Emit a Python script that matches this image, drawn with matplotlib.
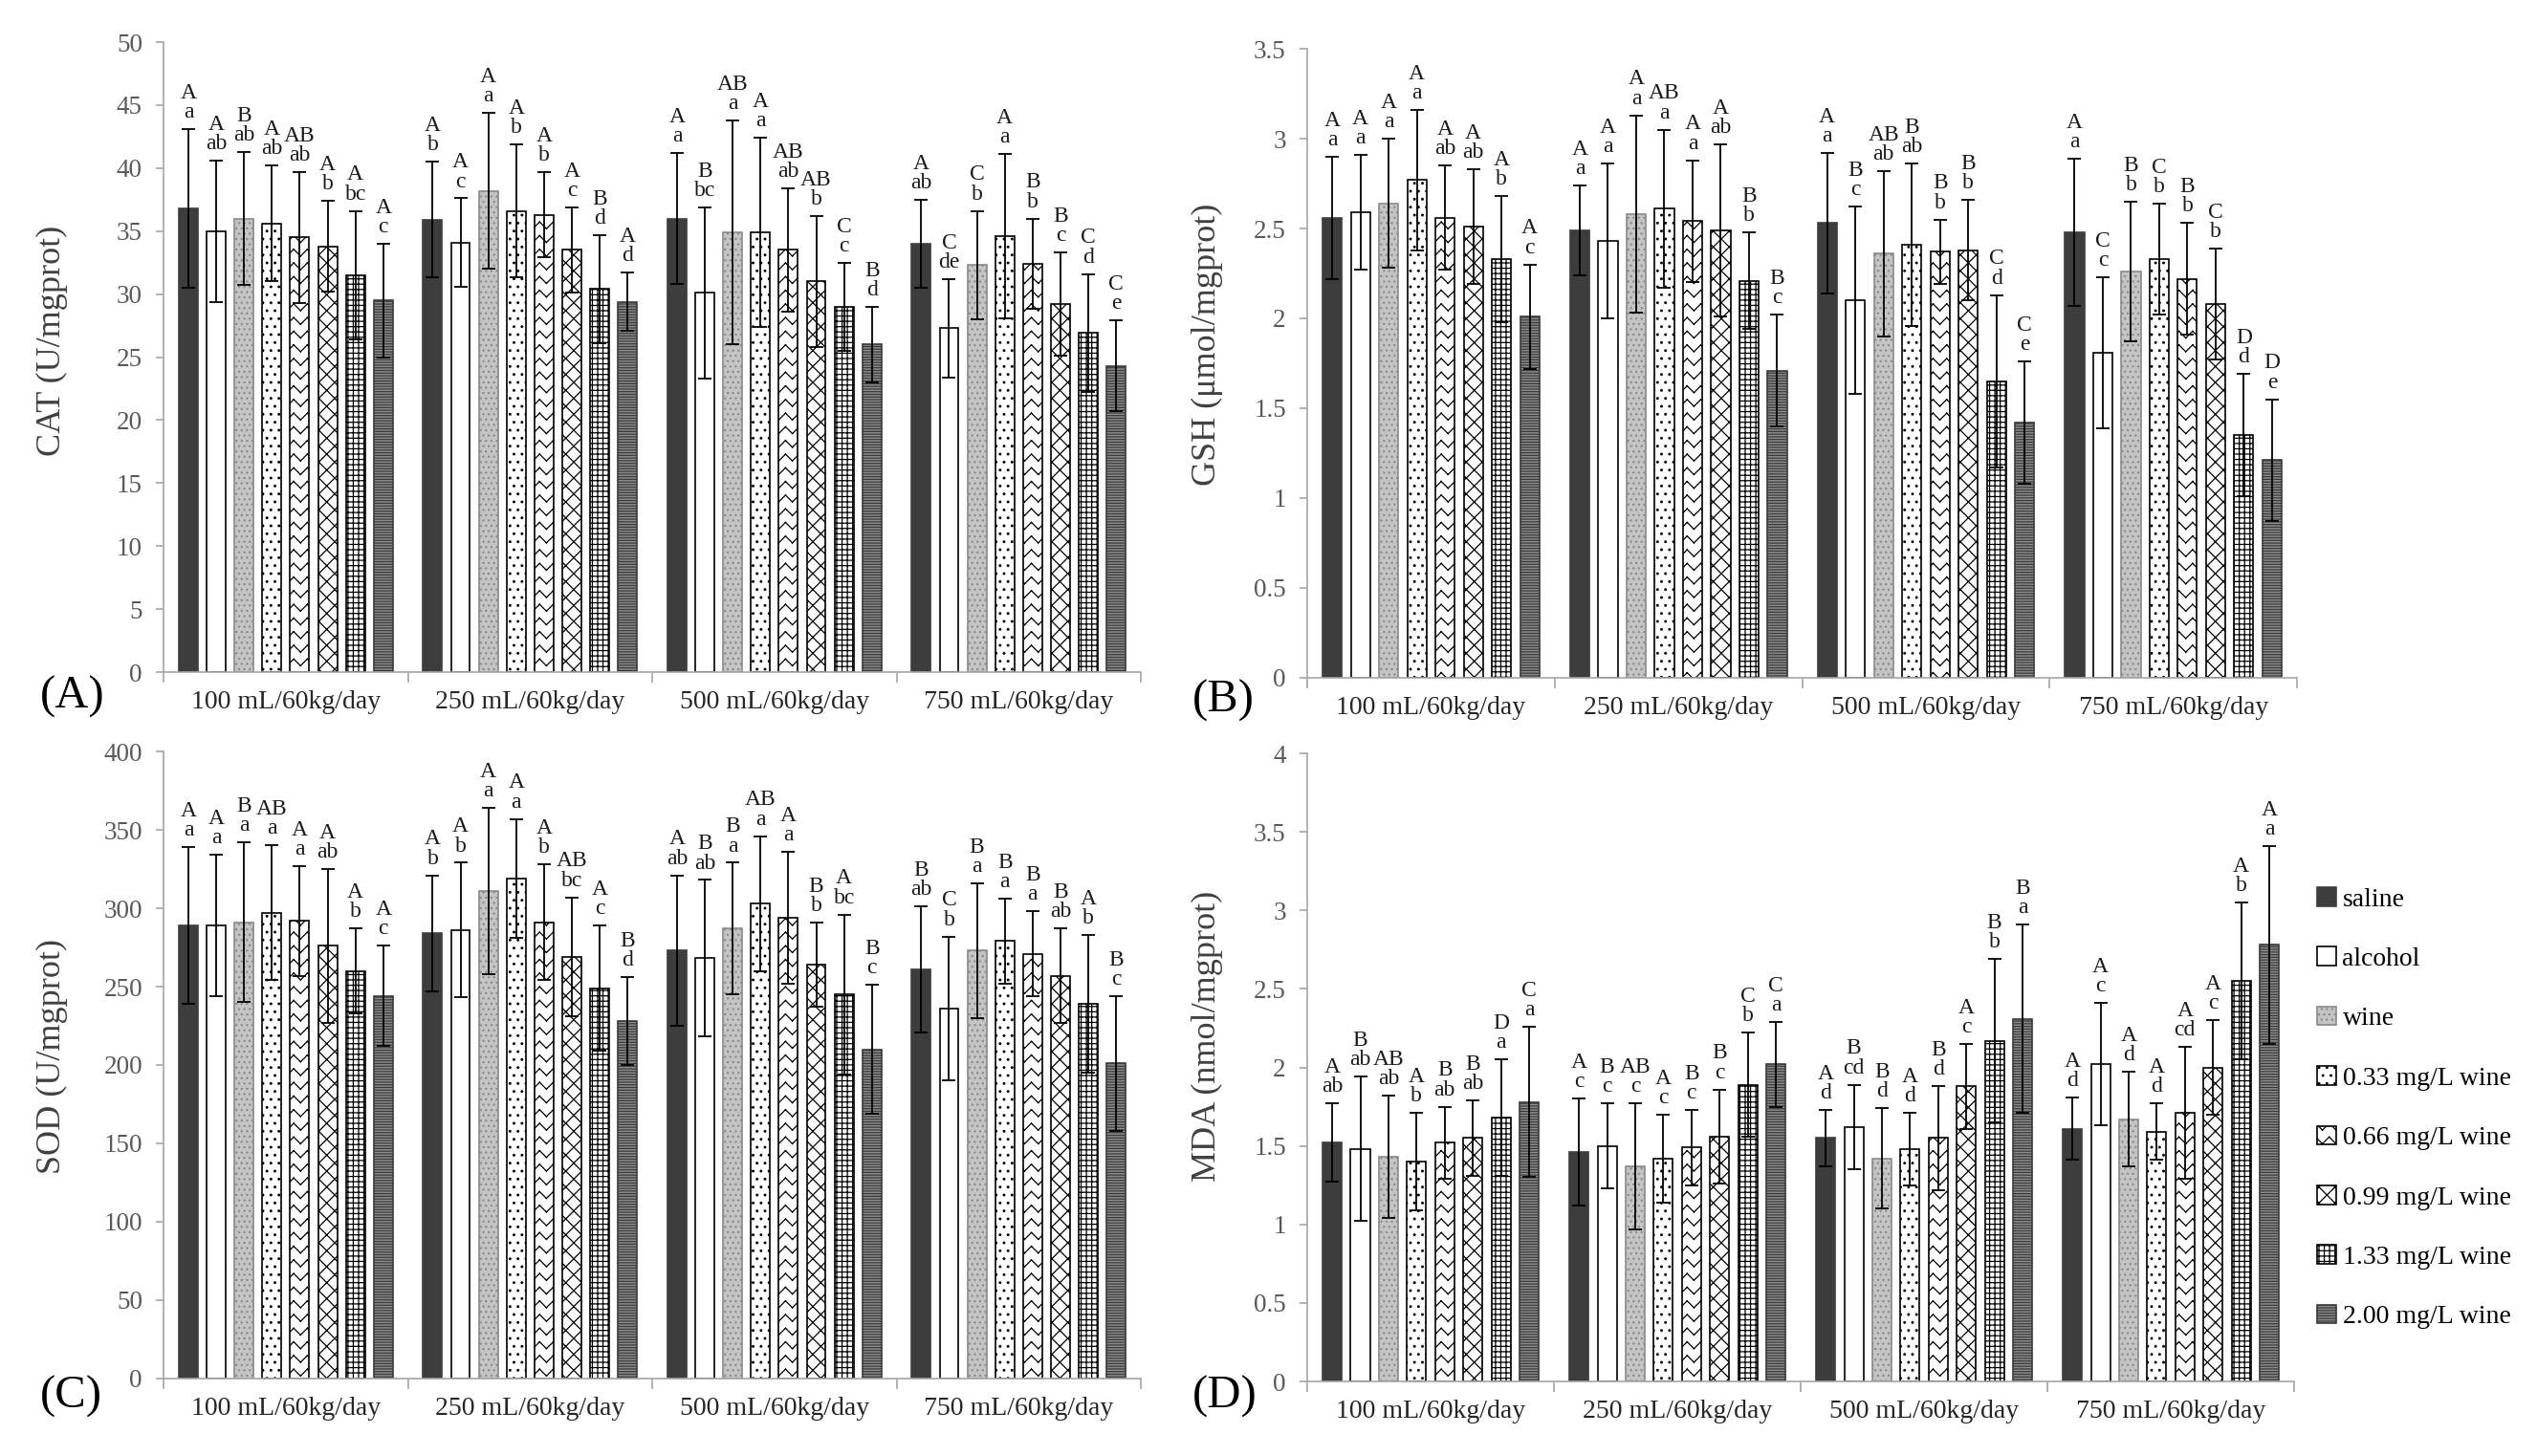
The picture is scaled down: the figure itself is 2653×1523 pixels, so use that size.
import warnings
import numpy as np
import matplotlib
matplotlib.use('Agg')
import matplotlib.pyplot as plt
import matplotlib.hatch as mhatch
from matplotlib.path import Path

warnings.filterwarnings('ignore', message='hatch must consist')

# groups and series
groups = ['100 mL/60kg/day', '250 mL/60kg/day', '500 mL/60kg/day', '750 mL/60kg/day']
series = ['saline', 'alcohol', 'wine', '0.33 mg/L wine', '0.66 mg/L wine',
          '0.99 mg/L wine', '1.33 mg/L wine', '2.00 mg/L wine']

# CAT (U/mgprot), rows = groups, columns = series
cat_mean = [[36.8, 35.0, 36.0, 35.6, 34.5, 33.8, 31.5, 29.5],
            [35.9, 34.1, 38.2, 36.6, 36.3, 33.5, 30.4, 29.4],
            [36.0, 30.1, 34.9, 34.9, 33.5, 31.0, 29.0, 26.0],
            [34.0, 27.3, 32.3, 34.6, 32.4, 29.2, 26.9, 24.3]]
cat_sd = [[6.3, 5.6, 5.3, 4.6, 5.2, 3.6, 5.1, 4.5],
          [4.6, 3.5, 6.2, 5.3, 3.4, 3.4, 4.3, 2.3],
          [5.2, 6.8, 8.9, 7.5, 4.9, 5.2, 3.5, 3.0],
          [3.5, 3.9, 4.3, 6.5, 3.6, 4.1, 4.7, 3.6]]
cat_upper = [['A', 'A', 'B', 'A', 'AB', 'A', 'A', 'A'],
             ['A', 'A', 'A', 'A', 'A', 'A', 'B', 'A'],
             ['A', 'B', 'AB', 'A', 'AB', 'AB', 'C', 'B'],
             ['A', 'C', 'C', 'A', 'B', 'B', 'C', 'C']]
cat_lower = [['a', 'ab', 'ab', 'ab', 'ab', 'b', 'bc', 'c'],
             ['b', 'c', 'a', 'b', 'b', 'c', 'd', 'd'],
             ['a', 'bc', 'a', 'a', 'ab', 'b', 'c', 'd'],
             ['ab', 'de', 'b', 'a', 'b', 'c', 'd', 'e']]

# GSH (umol/mgprot)
gsh_mean = [[2.56, 2.59, 2.64, 2.77, 2.56, 2.51, 2.33, 2.01],
            [2.49, 2.43, 2.58, 2.61, 2.54, 2.49, 2.21, 1.71],
            [2.53, 2.10, 2.36, 2.41, 2.37, 2.38, 1.65, 1.42],
            [2.48, 1.81, 2.26, 2.33, 2.22, 2.08, 1.35, 1.21]]
gsh_sd = [[0.34, 0.32, 0.36, 0.39, 0.29, 0.32, 0.35, 0.29],
          [0.25, 0.43, 0.55, 0.44, 0.34, 0.48, 0.27, 0.31],
          [0.39, 0.52, 0.46, 0.45, 0.18, 0.28, 0.48, 0.34],
          [0.41, 0.42, 0.39, 0.31, 0.31, 0.31, 0.34, 0.34]]
gsh_upper = [['A', 'A', 'A', 'A', 'A', 'A', 'A', 'A'],
             ['A', 'A', 'A', 'AB', 'A', 'A', 'B', 'B'],
             ['A', 'B', 'AB', 'B', 'B', 'B', 'C', 'C'],
             ['A', 'C', 'B', 'C', 'B', 'C', 'D', 'D']]
gsh_lower = [['a', 'a', 'a', 'a', 'ab', 'ab', 'b', 'c'],
             ['a', 'a', 'a', 'a', 'a', 'ab', 'b', 'c'],
             ['a', 'c', 'ab', 'ab', 'b', 'b', 'd', 'e'],
             ['a', 'c', 'b', 'b', 'b', 'b', 'd', 'e']]

# SOD (U/mgprot)
sod_mean = [[289, 289, 291, 297, 292, 276, 260, 244],
            [284, 286, 311, 319, 291, 269, 249, 228],
            [273, 268, 287, 303, 294, 264, 245, 210],
            [261, 236, 273, 279, 271, 257, 239, 201]]
sod_sd = [[50, 45, 51, 43, 35, 49, 27, 32],
          [37, 43, 53, 38, 37, 38, 40, 28],
          [48, 50, 42, 43, 42, 27, 51, 41],
          [40, 46, 43, 27, 27, 30, 44, 43]]
sod_upper = [['A', 'A', 'B', 'AB', 'A', 'A', 'A', 'A'],
             ['A', 'A', 'A', 'A', 'A', 'AB', 'A', 'B'],
             ['A', 'B', 'B', 'AB', 'A', 'B', 'A', 'B'],
             ['B', 'C', 'B', 'B', 'B', 'B', 'A', 'B']]
sod_lower = [['a', 'a', 'a', 'a', 'a', 'ab', 'b', 'c'],
             ['b', 'b', 'a', 'a', 'b', 'bc', 'c', 'd'],
             ['ab', 'ab', 'a', 'a', 'a', 'b', 'bc', 'c'],
             ['ab', 'b', 'a', 'a', 'a', 'ab', 'b', 'c']]

# MDA (nmol/mgprot)
mda_mean = [[1.52, 1.48, 1.43, 1.40, 1.52, 1.55, 1.68, 1.78],
            [1.46, 1.50, 1.37, 1.42, 1.49, 1.56, 1.89, 2.02],
            [1.55, 1.62, 1.42, 1.48, 1.55, 1.88, 2.17, 2.31],
            [1.61, 2.02, 1.67, 1.59, 1.71, 2.00, 2.55, 2.78]]
mda_sd = [[0.25, 0.46, 0.39, 0.31, 0.23, 0.24, 0.37, 0.48],
          [0.34, 0.27, 0.40, 0.28, 0.24, 0.30, 0.33, 0.27],
          [0.18, 0.27, 0.32, 0.23, 0.33, 0.27, 0.52, 0.60],
          [0.20, 0.39, 0.30, 0.18, 0.42, 0.30, 0.50, 0.63]]
mda_upper = [['A', 'B', 'AB', 'A', 'B', 'B', 'D', 'C'],
             ['A', 'B', 'AB', 'A', 'B', 'B', 'C', 'C'],
             ['A', 'B', 'B', 'A', 'B', 'A', 'B', 'B'],
             ['A', 'A', 'A', 'A', 'A', 'A', 'A', 'A']]
mda_lower = [['ab', 'ab', 'ab', 'b', 'ab', 'ab', 'a', 'a'],
             ['c', 'c', 'c', 'c', 'c', 'c', 'b', 'a'],
             ['d', 'cd', 'd', 'd', 'd', 'c', 'b', 'a'],
             ['d', 'c', 'd', 'd', 'cd', 'c', 'b', 'a']]


# zigzag hatch ('z') for the 0.66 mg/L bars, built from separate segments
# so that agg does not fill it
class ZigzagHatch(mhatch.HatchPatternBase):
    def __init__(self, hatch, density):
        self.num_rows = int(hatch.count('z') * density * 1.25)
        self.num_zigs = self.num_rows
        self.num_vertices = self.num_rows * self.num_zigs * 4

    def set_vertices_and_codes(self, vertices, codes):
        step = 1.0 / self.num_rows
        dx = 1.0 / self.num_zigs
        k = 0
        for i in range(self.num_rows):
            y0 = i * step + step * 0.25
            y1 = y0 + step * 0.5
            for j in range(self.num_zigs):
                x0 = j * dx
                for a, b in (((x0, y0), (x0 + dx / 2, y1)), ((x0 + dx / 2, y1), (x0 + dx, y0))):
                    vertices[k] = a
                    vertices[k + 1] = b
                    codes[k] = Path.MOVETO
                    codes[k + 1] = Path.LINETO
                    k += 2


mhatch._hatch_types.append(ZigzagHatch)

plt.rcParams['font.family'] = ['Liberation Serif', 'DejaVu Serif']
plt.rcParams['hatch.linewidth'] = 0.9

# bar styles: facecolor, edgecolor, hatch
styles = [('#3d3d3d', '#3d3d3d', None),
          ('white', 'black', None),
          ('#c4c4c4', '#8a8a8a', '...'),
          ('white', 'black', '..'),
          ('white', 'black', 'z'),
          ('white', 'black', 'xx'),
          ('white', 'black', '+++'),
          ('#8c8c8c', '#3a3a3a', '------')]

axis_grey = '#a6a6a6'
tick_grey = '#595959'
pitch = 0.114
width = 0.078

fig = plt.figure(figsize=(26.53, 15.23), dpi=100)

panels = [
    (cat_mean, cat_sd, cat_upper, cat_lower, 'CAT (U/mgprot)', 50, 5, [0.0645, 0.5384, 0.3852, 0.4327], (-0.098, 0.526), '(A)', (0.0158, 0.5213)),
    (gsh_mean, gsh_sd, gsh_upper, gsh_lower, 'GSH (\u03bcmol/mgprot)', 3.5, 0.5, [0.5153, 0.5345, 0.3901, 0.4320], (-0.085, 0.53), '(B)', (0.470, 0.519)),
    (sod_mean, sod_sd, sod_upper, sod_lower, 'SOD (U/mgprot)', 400, 50, [0.0645, 0.0532, 0.3852, 0.4307], (-0.098, 0.514), '(C)', (0.0158, 0.041)),
    (mda_mean, mda_sd, mda_upper, mda_lower, 'MDA (nmol/mgprot)', 4, 0.5, [0.5153, 0.0512, 0.3890, 0.4314], (-0.085, 0.55), '(D)', (0.470, 0.041)),
]

handles = []
for p, (mean, sd, upper, lower, ylabel, ymax, ystep, rect, ylab_xy, tag, tag_pos) in enumerate(panels):
    ax = fig.add_axes(rect)
    mean = np.array(mean, dtype=float)
    sd = np.array(sd, dtype=float)
    gx = np.arange(len(groups))
    for s, name in enumerate(series):
        fc, ec, hatch = styles[s]
        x = gx + (s - 3.5) * pitch
        bars = ax.bar(x, mean[:, s], width, color=fc, edgecolor=ec, hatch=hatch,
                      linewidth=1.2, label=name, zorder=2)
        ax.errorbar(x, mean[:, s], yerr=sd[:, s], fmt='none', ecolor='black',
                    elinewidth=1.3, capsize=5, capthick=1.3, zorder=3)
        for g in range(len(groups)):
            ax.annotate(upper[g][s] + '\n' + lower[g][s], (x[g], mean[g, s] + sd[g, s]),
                        xytext=(0, 5), textcoords='offset points', ha='center', va='bottom',
                        fontsize=17, linespacing=0.95, color='#1a1a1a')
        if p == 0:
            handles.append(bars)

    ax.set_xlim(-0.5, len(groups) - 0.5)
    ax.set_ylim(0, ymax)
    ticks = np.arange(0, ymax + ystep / 2, ystep)
    ax.set_yticks(ticks)
    ax.set_yticklabels(['%g' % t for t in ticks])
    ax.set_xticks(np.arange(len(groups) + 1) - 0.5)
    ax.set_xticklabels([])
    ax.set_xticks(gx, minor=True)
    ax.set_xticklabels(groups, minor=True, fontsize=20, color='#262626')
    ax.tick_params(axis='x', which='minor', length=0, pad=14)
    ax.tick_params(axis='x', which='major', length=8, color=axis_grey, width=1.2)
    ax.tick_params(axis='y', length=6, color=axis_grey, width=1.2, labelsize=19.5,
                   labelcolor=tick_grey, pad=10)
    for side in ('top', 'right'):
        ax.spines[side].set_visible(False)
    for side in ('left', 'bottom'):
        ax.spines[side].set_color(axis_grey)
        ax.spines[side].set_linewidth(1.2)
    ax.set_ylabel(ylabel, fontsize=26, color='#404040')
    ax.yaxis.set_label_coords(*ylab_xy)
    fig.text(tag_pos[0], tag_pos[1], tag, fontsize=35, ha='left', va='center', color='black')

fig.legend(handles, series, loc='upper left', bbox_to_anchor=(2412 / 2653, 1 - 917 / 1523),
           frameon=False, fontsize=20, handlelength=0.7, handleheight=0.7,
           handletextpad=0.25, labelspacing=1.33, borderaxespad=0)

plt.savefig('out.png', dpi=100)
